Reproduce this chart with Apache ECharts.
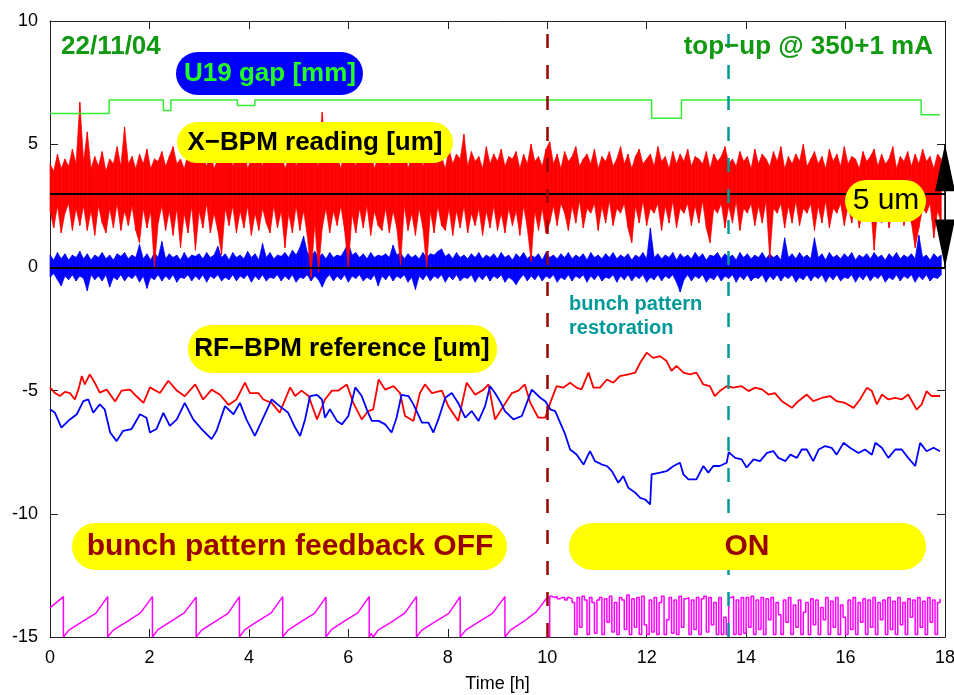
<!DOCTYPE html>
<html>
<head>
<meta charset="utf-8">
<title>X-BPM / RF-BPM</title>
<script src="https://cdn.jsdelivr.net/npm/echarts@6/dist/echarts.min.js"></script>
<style>
html, body { margin: 0; padding: 0; background: #fff; }
#main { width: 954px; height: 695px; }
</style>
</head>
<body>
<div id="main"></div>
<script>
// X-BPM reading, sampled every 0.075 h : lower / upper envelope of the noise band
var xStep = 0.075;
var redHi = [
    4.2,3.9,4.6,4.0,4.4,4.1,4.8,4.2,6.7,4.3, 5.5,4.0,4.5,4.1,4.7,3.9,4.4,4.2,4.9,4.1,
    5.7,4.2,4.5,4.0,4.6,4.2,4.8,4.0,4.4,4.3, 4.7,4.1,4.5,4.9,4.2,4.4,4.0,4.6,4.2,4.8,
    4.3,4.5,4.1,4.7,4.0,4.4,4.6,4.2,4.9,4.1, 4.5,4.3,4.8,4.0,4.4,4.2,4.6,4.1,5.0,4.3,
    4.5,4.2,4.7,4.0,4.4,4.9,4.1,4.6,4.3,4.8, 4.2,4.5,4.1,6.3,4.4,4.7,4.2,4.5,4.0,4.8,
    4.3,4.6,4.1,4.9,4.2,4.4,4.7,4.0,4.5,4.3, 4.8,4.1,4.6,4.2,4.4,4.9,4.0,4.5,4.3,4.7,
    4.1,4.6,4.2,5.0,4.3,4.5,4.0,4.8,4.2,4.6, 4.4,5.4,4.1,4.7,4.3,4.5,4.0,4.9,4.2,4.6,
    4.3,4.8,4.1,4.5,4.4,4.7,4.0,4.6,4.2,5.0, 4.3,4.5,4.1,4.8,5.1,4.2,4.6,4.0,4.7,4.3,
    4.5,4.9,4.1,4.4,4.6,4.2,4.8,4.0,4.5,4.3, 4.7,4.1,4.4,4.9,4.2,4.6,4.0,4.5,4.8,4.2,
    4.4,4.6,4.1,4.9,4.3,4.5,4.0,4.7,4.2,4.6, 4.3,4.8,4.1,4.5,4.4,4.2,4.7,4.0,4.6,4.3,
    4.5,4.9,4.2,4.4,4.1,4.7,4.3,4.5,4.0,4.8, 4.2,4.6,4.4,4.1,4.7,4.3,4.9,4.0,4.5,4.2,
    4.6,4.3,5.0,4.1,4.4,4.7,4.2,4.5,4.0,4.8, 4.3,4.6,4.1,4.9,4.2,4.5,4.4,4.0,4.7,4.3,
    4.5,4.8,4.1,4.6,4.2,4.4,4.9,4.0,4.5,4.3, 4.7,4.1,4.6,4.2,4.8,4.3,4.5,4.0,4.6,4.4
];
var redLo = [
    2.3,1.6,2.5,1.4,2.2,2.6,1.5,2.4,1.7,2.5, 1.5,2.3,1.3,2.5,1.8,1.4,2.4,1.6,2.6,1.5,
    2.3,1.7,2.5,1.5,1.0,2.4,1.6,2.3,0.0,1.8, 2.5,1.5,2.3,1.3,2.4,0.8,2.2,1.4,2.5,0.7,
    2.3,1.6,2.6,1.4,2.2,1.5,0.5,2.4,1.7,2.5, 1.4,2.3,1.6,2.5,1.3,2.2,1.5,2.4,1.8,1.4,
    2.5,1.6,2.3,0.8,2.2,1.4,2.5,1.5,2.3,1.3, -0.4,1.8,-0.2,1.6,2.4,1.4,2.3,1.7,2.5,1.5,
    0.0,2.2,1.4,2.4,1.6,2.5,1.3,2.3,1.7,1.5, 2.4,1.4,2.3,1.6,0.1,2.5,1.5,2.2,1.3,2.4,
    1.6,0.0,2.3,1.4,2.5,1.7,1.5,2.4,1.3,2.3, 1.6,2.5,1.4,2.2,1.7,2.4,1.3,2.3,1.6,2.5,
    1.5,2.2,1.4,2.4,1.7,2.3,1.3,2.5,1.6,0.25, 2.3,1.5,2.4,1.4,1.8,2.5,1.7,2.6,2.2,1.5,
    2.5,1.8,2.7,1.6,2.4,2.2,2.6,1.5,2.5,1.8, 2.7,1.7,2.4,2.2,2.6,1.6,1.0,2.5,1.8,2.7,
    1.7,2.4,2.2,2.6,1.5,2.5,1.8,2.7,1.6,2.4, 2.2,2.6,1.7,2.5,1.8,2.7,1.6,1.0,2.4,2.2,
    2.6,1.6,2.5,1.8,2.7,1.5,2.4,2.2,2.6,1.7, 2.5,1.8,2.7,0.4,2.4,2.2,2.6,1.6,2.5,1.8,
    2.7,1.7,2.4,2.2,2.6,1.5,2.5,1.8,2.7,1.6, 2.4,2.2,2.6,1.7,2.5,1.8,2.7,1.6,2.4,2.2,
    2.6,0.7,2.5,1.8,2.7,1.6,2.4,2.2,2.6,1.7, 2.5,1.8,0.8,1.6,2.4,2.2,2.6,1.2,2.3,1.8
];
var blueHi = [
    0.5,0.3,0.6,0.35,0.55,0.3,0.5,0.4,0.65,0.35, 0.55,0.3,0.5,0.4,0.6,0.35,0.5,0.3,0.55,0.45,
    0.6,0.35,0.5,0.4,0.93,0.35,0.55,0.3,0.6,0.4, 1.05,0.35,0.55,0.4,0.5,0.3,0.6,0.35,0.5,0.45,
    0.55,0.35,0.6,0.4,0.5,0.85,0.4,0.55,0.3,0.6, 0.4,0.5,0.35,0.65,0.4,0.55,0.3,0.97,0.4,0.6,
    0.35,0.5,0.45,0.6,0.4,0.7,0.5,0.8,1.26,0.6, 0.45,0.65,0.4,0.55,0.35,0.6,0.4,0.5,0.45,0.7,
    1.0,0.5,0.6,0.4,0.55,0.35,0.6,0.4,0.5,0.45, 0.55,0.4,0.9,0.5,0.6,0.35,0.55,0.4,0.5,0.35,
    0.6,0.4,0.55,0.5,0.65,0.75,0.45,0.55,0.35,0.6, 0.4,0.5,0.35,0.55,0.4,0.6,0.35,0.5,0.4,0.55,
    0.35,0.6,0.4,0.5,0.3,0.55,0.4,0.6,0.35,0.5, 0.4,0.55,0.3,0.6,0.4,0.5,0.35,0.55,0.4,0.6,
    0.35,0.5,0.4,0.55,0.3,0.6,0.4,0.5,0.35,0.55, 0.4,0.6,0.35,0.5,0.4,0.55,0.3,0.5,0.4,0.6,
    0.35,1.6,0.4,0.55,0.35,0.5,0.4,0.6,0.3,0.55, 0.4,0.5,0.35,0.6,0.4,0.55,0.3,0.5,0.45,0.6,
    0.35,0.55,0.4,0.5,0.3,0.6,0.4,0.55,0.35,0.5, 0.4,0.6,0.35,0.55,0.4,0.5,0.3,1.2,0.4,0.55,
    0.35,0.6,0.4,0.5,0.35,1.2,0.4,0.55,0.3,0.6, 0.4,0.5,0.35,0.55,0.4,0.6,0.3,0.5,0.4,0.55,
    0.35,0.6,0.4,0.5,0.3,0.55,0.4,0.6,0.35,0.5, 0.4,0.55,0.35,1.3,0.4,0.5,0.3,0.55,0.4,0.5
];
var blueLo = [
    -0.4,-0.25,-0.5,-0.75,-0.35,-0.5,-0.3,-0.55,-0.35,-0.45, -0.95,-0.3,-0.5,-0.35,-0.55,-0.3,-0.8,-0.4,-0.5,-0.3,
    -0.55,-0.35,-0.45,-0.3,-0.6,-0.35,-0.85,-0.4,-0.5,-0.3, -0.55,-0.35,-0.5,-0.3,-0.6,-0.4,-0.45,-0.3,-0.55,-0.35,
    -0.5,-0.3,-0.6,-0.35,-0.45,-0.3,-0.55,-0.4,-0.5,-0.3, -0.55,-0.35,-0.45,-0.3,-0.6,-0.35,-0.5,-0.3,-0.55,-0.4,
    -0.45,-0.3,-0.55,-0.35,-0.5,-0.3,-0.6,-0.4,-0.45,-0.3, -0.55,-0.35,-0.5,-0.8,-0.45,-0.3,-0.55,-0.35,-0.5,-0.3,
    -0.6,-0.35,-0.45,-0.3,-0.55,-0.4,-0.5,-0.3,-0.75,-0.35, -0.5,-0.3,-0.55,-0.35,-0.45,-0.3,-0.6,-0.4,-0.9,-0.35,
    -0.5,-0.3,-0.55,-0.35,-0.45,-0.3,-0.6,-0.35,-0.5,-0.3, -0.55,-0.4,-0.45,-0.3,-0.6,-0.35,-0.5,-0.3,-0.55,-0.35,
    -0.45,-0.3,-0.6,-0.4,-0.5,-0.7,-0.45,-0.3,-0.55,-0.35, -0.5,-0.3,-0.55,-0.35,-0.45,-0.3,-0.6,-0.4,-0.5,-0.3,
    -0.55,-0.35,-0.45,-0.3,-0.6,-0.35,-0.5,-0.3,-0.55,-0.4, -0.45,-0.3,-0.6,-0.35,-0.5,-0.3,-0.55,-0.35,-0.45,-0.3,
    -0.6,-0.4,-0.5,-0.3,-0.55,-0.35,-0.45,-0.3,-0.6,-1.0, -0.5,-0.3,-0.55,-0.35,-0.45,-0.3,-0.6,-0.4,-0.5,-0.3,
    -0.55,-0.35,-0.45,-0.3,-0.6,-0.35,-0.5,-0.3,-0.55,-0.4, -0.45,-0.3,-0.6,-0.35,-0.5,-0.3,-0.55,-0.35,-0.45,-0.3,
    -0.6,-0.4,-0.5,-0.3,-0.55,-0.35,-0.45,-0.3,-0.6,-0.35, -0.5,-0.3,-0.55,-0.4,-0.45,-0.3,-0.6,-0.35,-0.5,-0.3,
    -0.55,-0.35,-0.45,-0.3,-0.6,-0.4,-0.5,-0.3,-0.55,-0.35, -0.45,-0.3,-0.6,-0.35,-0.5,-0.3,-0.55,-0.4,-0.45,-0.3
];

// U19 gap [mm] (steps)
var gapT = [0, 1.19, 2.28, 2.43, 3.77, 4.12, 12.1, 12.7, 17.52, 17.9];
var gapV = [6.25, 6.79, 6.37, 6.79, 6.57, 6.79, 6.05, 6.79, 6.2, 6.2];

// RF-BPM reference [um]
var rfRed = [
    [0,-4.87],[0.1,-5.1],[0.2,-5.22],[0.3,-5.05],[0.4,-5.1],[0.5,-5.36],[0.58,-4.9],[0.64,-4.41],[0.7,-4.75],[0.8,-4.34],
    [0.9,-4.68],[1.0,-5.08],[1.14,-4.96],[1.31,-5.44],[1.44,-5.0],[1.61,-4.96],[1.74,-5.23],[1.88,-5.5],[2.01,-4.87],[2.21,-5.1],
    [2.38,-4.6],[2.55,-5.0],[2.71,-5.23],[2.92,-4.75],[3.08,-5.36],[3.25,-4.96],[3.42,-5.17],[3.59,-5.58],[3.75,-5.36],[3.92,-4.68],
    [4.02,-5.1],[4.19,-5.1],[4.29,-5.36],[4.46,-5.5],[4.62,-5.9],[4.83,-4.87],[4.93,-5.22],[5.06,-5.0],[5.2,-5.22],[5.37,-6.17],
    [5.53,-5.36],[5.67,-5.0],[5.8,-5.0],[5.97,-4.75],[6.1,-5.5],[6.27,-6.17],[6.4,-5.83],[6.5,-5.76],[6.61,-4.55],[6.74,-4.96],
    [6.91,-4.82],[7.04,-5.1],[7.14,-6.03],[7.31,-6.23],[7.44,-5.1],[7.54,-4.75],[7.68,-5.1],[7.88,-5.0],[8.01,-5.63],[8.21,-6.23],
    [8.38,-4.68],[8.55,-5.17],[8.72,-4.96],[8.82,-4.75],[8.95,-6.17],[9.12,-5.63],[9.29,-5.1],[9.42,-5.0],[9.55,-4.75],[9.66,-5.5],
    [9.82,-6.1],[9.96,-6.1],[10.06,-5.5],[10.19,-4.82],[10.32,-4.88],[10.46,-4.68],[10.59,-4.88],[10.69,-4.95],[10.83,-4.27],[10.93,-4.88],
    [11.06,-4.88],[11.2,-4.55],[11.33,-4.68],[11.46,-4.41],[11.63,-4.34],[11.77,-4.27],[11.87,-3.87],[12.0,-3.46],[12.13,-3.67],[12.27,-3.6],
    [12.4,-3.8],[12.5,-4.2],[12.6,-4.0],[12.74,-4.27],[12.87,-4.34],[13.0,-4.27],[13.14,-4.75],[13.27,-4.82],[13.37,-5.22],[13.47,-5.02],
    [13.61,-4.82],[13.74,-4.88],[13.91,-4.82],[14.05,-5.02],[14.18,-4.88],[14.32,-4.95],[14.45,-5.16],[14.58,-5.1],[14.72,-5.43],[14.92,-5.7],
    [15.05,-5.43],[15.22,-5.16],[15.35,-5.43],[15.52,-5.3],[15.69,-5.22],[15.82,-5.43],[15.99,-5.5],[16.16,-5.7],[16.29,-5.36],[16.43,-4.88],
    [16.53,-5.02],[16.63,-5.56],[16.73,-5.16],[16.86,-5.36],[17.0,-5.3],[17.13,-5.36],[17.26,-5.16],[17.43,-5.77],[17.53,-5.56],[17.63,-5.02],
    [17.73,-5.22],[17.9,-5.22]
];
var rfBlue = [
    [0,-5.76],[0.1,-5.9],[0.23,-6.5],[0.4,-6.17],[0.54,-5.96],[0.67,-5.43],[0.77,-5.36],[0.87,-5.9],[1.0,-5.56],[1.1,-5.76],
    [1.21,-6.7],[1.34,-7.05],[1.47,-6.63],[1.64,-6.56],[1.81,-5.96],[1.94,-6.1],[2.01,-6.7],[2.14,-6.56],[2.28,-5.9],[2.41,-6.43],
    [2.55,-6.17],[2.71,-5.5],[2.88,-6.17],[3.05,-6.56],[3.25,-6.97],[3.35,-6.63],[3.52,-5.63],[3.69,-5.96],[3.82,-5.5],[3.95,-6.17],
    [4.12,-6.84],[4.29,-6.1],[4.46,-5.36],[4.62,-5.63],[4.79,-5.9],[4.93,-6.5],[5.03,-6.84],[5.13,-6.17],[5.23,-5.22],[5.37,-5.17],
    [5.47,-5.36],[5.53,-6.1],[5.63,-5.76],[5.77,-6.23],[5.87,-6.37],[6.0,-6.03],[6.14,-4.87],[6.27,-5.22],[6.37,-5.76],[6.47,-6.23],
    [6.61,-6.23],[6.74,-6.37],[6.87,-6.7],[6.97,-6.1],[7.07,-5.17],[7.21,-5.22],[7.31,-5.56],[7.48,-6.3],[7.61,-6.3],[7.71,-6.7],
    [7.81,-6.17],[7.95,-5.29],[8.08,-5.1],[8.21,-5.5],[8.35,-6.1],[8.48,-5.83],[8.62,-6.23],[8.75,-5.63],[8.85,-4.82],[8.95,-5.1],
    [9.05,-5.43],[9.15,-5.83],[9.32,-6.17],[9.49,-6.03],[9.69,-4.96],[9.86,-5.29],[9.96,-5.43],[10.06,-5.76],[10.16,-5.83],[10.26,-6.3],
    [10.36,-6.77],[10.46,-7.39],[10.59,-7.59],[10.73,-8.0],[10.86,-7.46],[10.96,-7.86],[11.1,-8.0],[11.2,-8.06],[11.3,-8.27],[11.43,-8.74],
    [11.53,-8.47],[11.63,-8.94],[11.77,-9.14],[11.87,-9.35],[11.97,-9.42],[12.07,-9.62],[12.1,-8.4],[12.27,-8.33],[12.4,-8.27],[12.54,-8.06],
    [12.67,-7.93],[12.74,-8.4],[12.84,-8.6],[13.0,-8.6],[13.14,-8.06],[13.24,-8.33],[13.34,-8.06],[13.47,-8.06],[13.61,-7.93],[13.65,-7.5],
    [13.78,-7.73],[13.91,-7.79],[14.01,-8.12],[14.15,-7.79],[14.28,-7.86],[14.42,-7.53],[14.55,-7.46],[14.65,-7.73],[14.79,-7.86],[14.89,-7.6],
    [15.02,-7.73],[15.12,-7.39],[15.22,-7.39],[15.35,-7.86],[15.46,-7.39],[15.59,-7.25],[15.72,-7.32],[15.82,-7.6],[15.96,-7.12],[16.09,-7.32],
    [16.26,-7.53],[16.39,-7.39],[16.53,-7.6],[16.6,-7.12],[16.73,-7.32],[16.86,-7.73],[17.0,-7.39],[17.13,-7.39],[17.26,-7.73],[17.4,-8.06],
    [17.5,-7.12],[17.63,-7.46],[17.77,-7.32],[17.9,-7.46]
];

// beam current trace (magenta), feedback OFF: top-up saw tooth
var magOff = [
    [0,-13.82],[0.27,-13.36],[0.27,-15],[0.38,-14.72],[0.65,-14.38],[0.92,-14.04],[1.16,-13.36],[1.16,-15],
    [1.27,-14.72],[1.55,-14.38],[1.82,-14.02],[2.06,-13.36],[2.06,-15],
    [2.17,-14.7],[2.44,-14.36],[2.7,-14.02],[2.94,-13.38],[2.94,-15],
    [3.05,-14.72],[3.32,-14.38],[3.58,-14.04],[3.81,-13.36],[3.81,-15],
    [3.92,-14.7],[4.18,-14.36],[4.45,-14.02],[4.68,-13.36],[4.68,-15],
    [4.79,-14.72],[5.05,-14.38],[5.32,-14.04],[5.55,-13.38],[5.55,-15],
    [5.66,-14.7],[5.92,-14.36],[6.19,-14.02],[6.42,-13.36],[6.42,-15],[6.46,-14.85],[6.5,-15],
    [6.6,-14.72],[6.88,-14.38],[7.14,-14.02],[7.37,-13.36],[7.37,-15],
    [7.48,-14.72],[7.75,-14.38],[8.02,-14.04],[8.25,-13.36],[8.25,-15],
    [8.36,-14.72],[8.63,-14.38],[8.9,-14.04],[9.15,-13.36],[9.15,-15],
    [9.26,-14.72],[9.52,-14.38],[9.78,-13.98],[10.0,-13.4]
];
// feedback ON: values every 0.05 h from 10 h
var magOnStart = 10, magOnStep = 0.05;
var magOn = [
    -15.0,-13.35,-13.4,-13.35,-13.45,-13.4,-13.4,-13.5,-13.4,-13.45,
    -13.6,-14.9,-13.4,-14.6,-13.35,-13.5,-14.9,-13.4,-13.6,-14.85,
    -13.5,-13.4,-14.9,-13.45,-14.4,-13.35,-14.8,-13.6,-14.9,-13.4,
    -13.5,-14.7,-13.3,-14.9,-13.45,-14.6,-13.4,-14.9,-13.35,-14.5,
    -14.9,-13.5,-14.8,-13.4,-14.9,-13.6,-13.35,-14.9,-14.3,-13.4,
    -14.85,-13.5,-14.9,-13.35,-14.6,-13.45,-13.4,-14.9,-13.5,-14.7,
    -13.4,-14.9,-13.45,-13.35,-14.8,-13.4,-14.5,-13.6,-14.9,-13.4,
    -14.9,-14.2,-14.9,-13.4,-13.35,-14.9,-13.5,-14.9,-13.4,-14.85,
    -13.4,-14.6,-13.35,-14.9,-13.5,-14.7,-13.4,-14.9,-13.45,-14.3,
    -13.4,-14.9,-13.6,-14.1,-14.9,-13.5,-14.4,-13.4,-14.9,-13.7,
    -14.6,-13.5,-14.9,-14.0,-13.6,-14.9,-13.45,-14.5,-13.5,-14.9,
    -13.8,-14.3,-13.4,-14.9,-13.55,-14.6,-13.4,-14.9,-13.7,-14.2,
    -14.9,-13.5,-14.7,-13.4,-14.9,-13.6,-14.4,-13.45,-14.9,-13.5,
    -14.6,-13.4,-14.9,-13.6,-14.3,-13.5,-14.9,-13.4,-14.7,-13.55,
    -14.9,-13.4,-14.5,-13.6,-14.9,-13.45,-14.2,-13.5,-14.9,-13.4,
    -14.6,-13.55,-14.9,-13.4,-14.4,-13.5,-14.9,-13.6,-13.45
];

var FONT = '"Liberation Sans", Arial, Helvetica, sans-serif';

// one item per sample step: [t0, lo0, hi0, t1, lo1, hi1]
function bandData(lo, hi) {
    var out = [];
    var n = Math.min(lo.length, hi.length);
    for (var i = 0; i < n - 1; i++) {
        out.push([+(i * xStep).toFixed(3), lo[i], hi[i], +((i + 1) * xStep).toFixed(3), lo[i + 1], hi[i + 1]]);
    }
    return out;
}
function bandRender(color) {
    return function (params, api) {
        var a = api.coord([api.value(0), api.value(2)]);
        var b = api.coord([api.value(3), api.value(5)]);
        var c = api.coord([api.value(3), api.value(4)]);
        var d = api.coord([api.value(0), api.value(1)]);
        return {
            type: 'polygon',
            shape: { points: [a, b, c, d] },
            style: { fill: color, stroke: color, lineWidth: 0.7 }
        };
    };
}

var gapData = gapT.map(function (t, i) { return [t, gapV[i]]; });
var magOnData = magOn.map(function (v, i) { return [+(magOnStart + i * magOnStep).toFixed(2), v]; });

var chart = echarts.init(document.getElementById('main'));

function frameAxis(extra) {
    var a = {
        type: 'value',
        axisLine: { show: true, onZero: false, lineStyle: { color: '#222', width: 1 } },
        axisTick: { show: true, inside: true, length: 8, lineStyle: { color: '#222' } },
        axisLabel: { show: false },
        splitLine: { show: false }
    };
    for (var k in extra) a[k] = extra[k];
    return a;
}

var option = {
    animation: false,
    backgroundColor: '#fff',
    grid: { left: 50, right: 9, top: 21, bottom: 58, containLabel: false, outerBoundsMode: 'none' },
    xAxis: [
        frameAxis({
            min: 0, max: 18, interval: 2, position: 'bottom',
            name: 'Time [h]', nameLocation: 'middle', nameGap: 38,
            nameTextStyle: { fontFamily: FONT, fontSize: 18, color: '#000' },
            axisLabel: { show: true, fontFamily: FONT, fontSize: 18, color: '#000', margin: 12 }
        }),
        frameAxis({ min: 0, max: 18, interval: 2, position: 'top' })
    ],
    yAxis: [
        frameAxis({
            min: -15, max: 10, interval: 5, position: 'left',
            axisLabel: { show: true, fontFamily: FONT, fontSize: 18, color: '#000', margin: 12 }
        }),
        frameAxis({ min: -15, max: 10, interval: 5, position: 'right' })
    ],
    series: [
        {
            name: 'xbpm-blue', type: 'custom', data: bandData(blueLo, blueHi),
            renderItem: bandRender('#0000ff'), silent: true,
            encode: { x: [0, 3], y: [1, 2, 4, 5] }
        },
        {
            name: 'xbpm-red', type: 'custom', data: bandData(redLo, redHi),
            renderItem: bandRender('#ff0000'), silent: true,
            encode: { x: [0, 3], y: [1, 2, 4, 5] }
        },
        {
            name: 'gap', type: 'line', data: gapData, step: 'end', symbol: 'none', silent: true,
            lineStyle: { color: '#33ee33', width: 1.5 },
            markLine: {
                silent: true, symbol: 'none', label: { show: false },
                lineStyle: { color: '#000', width: 2, type: 'solid' },
                data: [{ yAxis: 3 }, { yAxis: 0 }]
            }
        },
        {
            name: 'rf-red', type: 'line', data: rfRed, symbol: 'none', silent: true,
            lineStyle: { color: '#ff0000', width: 1.8 }
        },
        {
            name: 'rf-blue', type: 'line', data: rfBlue, symbol: 'none', silent: true,
            lineStyle: { color: '#0000ff', width: 1.8 }
        },
        {
            name: 'current-off', type: 'line', data: magOff, symbol: 'none', silent: true,
            lineStyle: { color: '#ff00ff', width: 1.5 }
        },
        {
            name: 'current-on', type: 'line', data: magOnData, step: 'end', symbol: 'none', silent: true,
            lineStyle: { color: '#ff00ff', width: 1.5 },
            markLine: {
                silent: true, symbol: 'none', label: { show: false },
                lineStyle: { width: 2.5, type: [14, 17] },
                data: [
                    { xAxis: 10, lineStyle: { color: '#990000' } },
                    { xAxis: 13.65, lineStyle: { color: '#009999' } }
                ]
            }
        }
    ]
};
chart.setOption(option);

// annotations
function box(x, y, w, h, fill) {
    return { type: 'rect', z: 100, shape: { x: x, y: y, width: w, height: h, r: h / 2 }, style: { fill: fill } };
}
function label(x, y, text, font, fill, align) {
    return {
        type: 'text', z: 101, x: x, y: y,
        style: {
            text: text, font: font, fill: fill,
            align: align || 'center', verticalAlign: 'middle',
            textAlign: align || 'center', textVerticalAlign: 'middle'
        }
    };
}

var bold26 = 'bold 26px ' + FONT;
var bold30 = 'bold 30px ' + FONT;

// 5 um scale arrow at the right border, from 0 to 5
var pTop = chart.convertToPixel({ xAxisIndex: 0, yAxisIndex: 0 }, [18, 5]);
var pBot = chart.convertToPixel({ xAxisIndex: 0, yAxisIndex: 0 }, [18, 0]);

chart.setOption({
    graphic: [
        label(61, 47, '22/11/04', bold26, '#119911', 'left'),
        label(933, 47, 'top\u2212up @ 350+1 mA', bold26, '#119911', 'right'),

        box(176, 52, 187, 43, '#0000ff'),
        label(270, 74, 'U19 gap [mm]', bold26, '#22ff22'),

        box(177, 122, 276, 41, '#ffff00'),
        label(315, 143, 'X\u2212BPM reading [um]', bold26, '#000'),

        { type: 'polygon', z: 100, shape: { points: [[pTop[0], pTop[1]], [pTop[0] - 10, pTop[1] + 47], [pTop[0] + 10, pTop[1] + 47]] }, style: { fill: '#000' } },
        { type: 'polygon', z: 100, shape: { points: [[pBot[0], pBot[1]], [pBot[0] - 10, pBot[1] - 48], [pBot[0] + 10, pBot[1] - 48]] }, style: { fill: '#000' } },
        { type: 'line', z: 100, shape: { x1: pTop[0], y1: pTop[1], x2: pBot[0], y2: pBot[1] }, style: { stroke: '#000', lineWidth: 1.5 } },

        box(845, 180, 81, 42, '#ffff00'),
        label(886, 201, '5 um', '30px ' + FONT, '#000'),

        label(569, 304, 'bunch pattern', 'bold 20px ' + FONT, '#009999', 'left'),
        label(569, 328, 'restoration', 'bold 20px ' + FONT, '#009999', 'left'),

        box(188, 325, 309, 48, '#ffff00'),
        label(342, 349, 'RF\u2212BPM reference [um]', bold26, '#000'),

        box(72, 523, 435, 47, '#ffff00'),
        label(290, 547, 'bunch pattern feedback OFF', bold30, '#990000'),

        box(569, 523, 357, 47, '#ffff00'),
        label(747, 547, 'ON', bold30, '#990000')
    ]
});
</script>
</body>
</html>
